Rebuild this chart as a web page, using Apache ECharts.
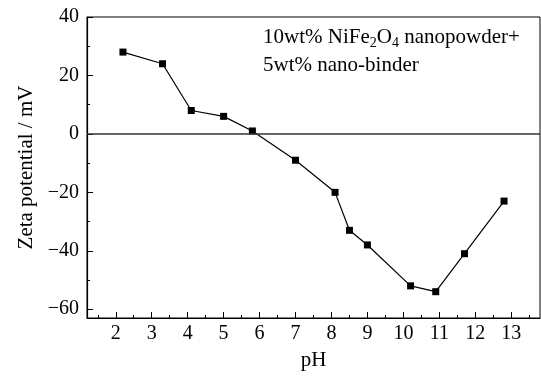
<!DOCTYPE html>
<html>
<head>
<meta charset="utf-8">
<script src="https://cdn.jsdelivr.net/npm/echarts@6/dist/echarts.min.js"></script>
<style>
html,body{margin:0;padding:0;background:#fff;}
#c{width:541px;height:376px;}
</style>
</head>
<body>
<div id="c"></div>
<script>
var pH = [2.2, 3.3, 4.1, 5.0, 5.8, 7.0, 8.1, 8.5, 9.0, 10.2, 10.9, 11.7, 12.8];
var zeta = [28, 24, 8, 6, 1, -9, -20, -33, -38, -52, -54, -41, -23];
var xMajorTicks = [2, 3, 4, 5, 6, 7, 8, 9, 10, 11, 12, 13];
var xMinorTicks = [1.5, 2.5, 3.5, 4.5, 5.5, 6.5, 7.5, 8.5, 9.5, 10.5, 11.5, 12.5, 13.5];
var yMajorTicks = [-60, -40, -20, 0, 20, 40];
var yMinorTicks = [-50, -30, -10, 10, 30];
var xTitle = 'pH';
var yTitle = 'Zeta potential / mV';

var FONT = '"Liberation Serif", "Times New Roman", serif';
var chart = echarts.init(document.getElementById('c'), null, {renderer: 'canvas'});

var X_MIN = 1.2, X_MAX = 13.8, Y_MIN = -63, Y_MAX = 40;

var option = {
  backgroundColor: '#fff',
  animation: false,
  grid: {left: 87, top: 17, width: 453, height: 304, show: true, borderColor: '#000', borderWidth: 1, backgroundColor: 'transparent'},
  xAxis: [
    {
      type: 'value', min: X_MIN, max: X_MAX, position: 'bottom',
      name: xTitle, nameLocation: 'middle', nameGap: 32,
      nameTextStyle: {fontFamily: FONT, fontSize: 21, color: '#000'},
      axisLine: {show: true, onZero: false, lineStyle: {color: '#000', width: 1.2}},
      axisTick: {show: true, inside: true, length: 6, customValues: xMajorTicks, lineStyle: {color: '#000', width: 1}},
      axisLabel: {show: true, customValues: xMajorTicks, fontFamily: FONT, fontSize: 20, color: '#000', margin: 6},
      splitLine: {show: false}
    },
    {
      type: 'value', min: X_MIN, max: X_MAX, position: 'bottom',
      axisLine: {show: false, onZero: false},
      axisTick: {show: true, inside: true, length: 3, customValues: xMinorTicks, lineStyle: {color: '#000', width: 1}},
      axisLabel: {show: false},
      splitLine: {show: false}
    }
  ],
  yAxis: [
    {
      type: 'value', min: Y_MIN, max: Y_MAX, position: 'left',
      name: yTitle, nameLocation: 'middle', nameGap: 49,
      nameTextStyle: {fontFamily: FONT, fontSize: 21, color: '#000'},
      axisLine: {show: true, onZero: false, lineStyle: {color: '#000', width: 1.2}},
      axisTick: {show: true, inside: true, length: 6, customValues: yMajorTicks, lineStyle: {color: '#000', width: 1}},
      axisLabel: {show: true, customValues: yMajorTicks, fontFamily: FONT, fontSize: 20, color: '#000', margin: 8,
        formatter: function (v) { return String(v).replace('-', '\u2212'); }},
      splitLine: {show: false}
    },
    {
      type: 'value', min: Y_MIN, max: Y_MAX, position: 'left',
      axisLine: {show: false, onZero: false},
      axisTick: {show: true, inside: true, length: 3, customValues: yMinorTicks, lineStyle: {color: '#000', width: 1}},
      axisLabel: {show: false},
      splitLine: {show: false}
    }
  ],
  series: [
    {
      type: 'line',
      xAxisIndex: 0, yAxisIndex: 0,
      data: pH.map(function (x, i) { return [x, zeta[i]]; }),
      symbol: 'rect', symbolSize: 7,
      itemStyle: {color: '#000'},
      lineStyle: {color: '#000', width: 1.2},
      markLine: {
        silent: true, symbol: ['none', 'none'],
        label: {show: false},
        lineStyle: {color: '#333', width: 1.5, type: 'solid'},
        data: [{yAxis: 0}]
      },
      z: 3
    }
  ],
  graphic: [
    {
      type: 'text', left: 263, top: 23,
      style: {
        text: '10wt% NiFe{sub|2}O{sub|4} nanopowder+\n5wt% nano-binder',
        fontFamily: FONT, fontSize: 21, fill: '#000', lineHeight: 28,
        rich: {
          sub: {fontFamily: FONT, fontSize: 14, fill: '#000', padding: [12, 0, 0, 0]}
        }
      }
    }
  ]
};
chart.setOption(option);
</script>
</body>
</html>
